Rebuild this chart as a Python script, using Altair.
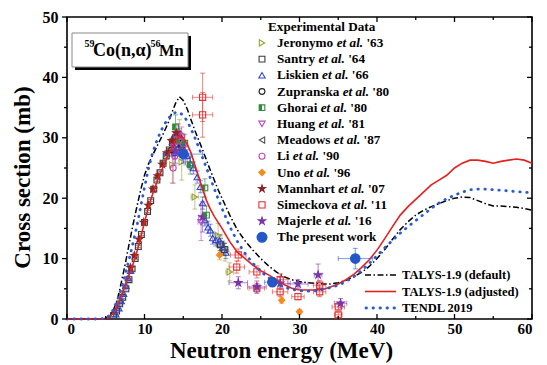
import altair as alt
import pandas as pd

# ---------------- model curves ----------------
energy_model = [0, 4, 5, 5.5, 6, 6.5, 7, 7.5, 8, 8.5, 9, 9.5, 10, 10.5, 11, 11.5, 12, 12.5,
                13, 13.5, 14, 14.5, 15, 15.5, 16, 16.5, 17, 17.5, 18, 18.5, 19, 19.5, 20,
                21, 22, 23, 24, 25, 26, 27, 28, 29, 30, 31, 32, 33, 34, 35, 36, 37, 38, 39, 40,
                41, 42, 43, 44, 45, 46, 47, 48, 49, 50, 51, 52, 53, 54, 55, 56, 57, 58, 59, 60]
talys_default = [0, 0, 0.1, 0.5, 1.5, 3.2, 6, 9, 12.3, 15.5, 18.5, 21.3, 23.8, 25.6, 27, 28.3, 29.6, 30.9,
                 32.3, 34, 35.7, 36.8, 36.2, 34.8, 33, 31.2, 29.6, 28, 26.3, 24.6, 23, 21.4, 20,
                 17.2, 14.7, 12.9, 11.4, 10, 8.8, 7.8, 7, 6.5, 6.2, 6, 5.9, 5.8, 5.8, 6, 6.4, 7, 7.7, 8.7, 10,
                 11.5, 13.2, 14.8, 16.1, 17.2, 18, 18.6, 19.1, 19.6, 20, 20.2, 20.1, 19.6, 19.1, 18.7, 18.7, 18.6, 18.5, 18.3, 18]
talys_adjusted = [0, 0, 0.05, 0.3, 1, 2.2, 3.8, 5.5, 7.3, 9, 11, 13.5, 16, 18.5, 20.5, 22.3, 24, 25.5,
                  27, 28.3, 29.5, 30.3, 30, 29, 27.5, 25.5, 23.5, 21.5, 19.6, 18.2, 17, 16, 15,
                  12.8, 11, 10, 8.9, 8, 7.3, 6.5, 5.7, 5.1, 4.8, 4.8, 4.8, 4.9, 5.3, 5.8, 6.5, 7.4, 8.5, 9.8, 11.4,
                  13.3, 15.3, 17.2, 18.6, 19.8, 21, 22.2, 23, 23.8, 25, 25.8, 26.3, 26.3, 26.1, 25.8, 26.1, 26.3, 26.5, 26.3, 25.8]
tendl_2019 = [0, 0, 0.1, 0.6, 1.6, 3.1, 5, 7.3, 9.8, 12.5, 15.3, 18.5, 21.8, 24.8, 27.3, 29.2, 30.8, 32.1,
              33.1, 33.8, 34.2, 34.2, 33.7, 32.8, 31.5, 30, 28.4, 26.7, 25, 23.3, 21.6, 19.9, 18.3,
              15.3, 12.8, 10.8, 9.2, 7.9, 6.8, 5.9, 5.3, 4.9, 4.7, 4.6, 4.7, 4.9, 5.2, 5.6, 6.2, 7, 8, 9.2, 10.5,
              11.8, 13, 14.2, 15.3, 16.3, 17.3, 18.3, 19.2, 19.9, 20.5, 21, 21.4, 21.5, 21.5, 21.4, 21.3, 21.2, 21.1, 21, 20.9]

# ---------------- experimental data ----------------
jeronymo_x = [13.6, 14.5, 14.8, 16.5, 19.5, 20.4, 21.0]
jeronymo_y = [25.5, 30.0, 26.0, 20.2, 13.8, 11.1, 7.8]
jeronymo_dy = [3.0, 3.0, 3.0, 2.0, 2.0, 1.5, 1.5]
jeronymo_dx = [0.0, 0.0, 0.0, 0.5, 0.5, 0.5, 0.5]

santry_x = [6.0, 6.4, 6.8, 7.2, 7.6, 8.0, 8.4, 8.8, 9.2, 9.6, 10.0, 10.4, 10.8, 11.2, 11.6, 12.0, 12.4,
            12.8, 13.2, 13.6, 14.0, 14.4, 14.8, 19.8, 20.3]
santry_y = [0.6, 1.3, 2.5, 3.6, 5.0, 6.5, 8.3, 10.0, 12.0, 14.0, 16.0, 17.8, 19.6, 21.5, 23.0, 24.2, 25.8,
            27.0, 28.0, 29.2, 30.0, 30.5, 29.0, 12.3, 11.5]
santry_dy = [0.2] * 23 + [1.0, 1.0]
santry_dx = [0.0] * 23 + [0.5, 0.5]

liskien_x = [6.3, 6.7, 7.0, 7.3, 7.6, 7.9, 8.2, 13.9, 14.3, 14.7, 15.1, 15.5, 15.9, 16.3, 16.8, 17.2,
             17.5, 17.8, 18.2, 18.5, 18.8, 19.2, 19.7, 20.1, 20.5]
liskien_y = [0.8, 1.8, 3.0, 4.2, 5.5, 6.8, 8.0, 27.5, 28.3, 28.8, 28.0, 27.0, 25.8, 25.0, 23.5, 21.9,
             19.2, 16.4, 15.2, 14.7, 13.4, 13.1, 13.0, 11.9, 11.0]
liskien_dy = [0.3] * 7 + [1.0] * 18
liskien_dx = [0.0] * 25

zupranska_x = [13.5, 14.0, 14.5, 14.8]
zupranska_y = [28.0, 29.5, 30.0, 28.5]
zupranska_dy = [1.0, 1.0, 1.0, 1.0]
zupranska_dx = [0.0, 0.0, 0.0, 0.0]

ghorai_x = [14.0, 14.5, 15.2, 15.9, 17.8, 18.0]
ghorai_y = [31.8, 29.5, 29.1, 25.5, 21.7, 17.2]
ghorai_dy = [2.0, 2.0, 1.5, 1.5, 1.5, 1.5]
ghorai_dx = [0.0, 0.0, 0.0, 0.0, 0.0, 0.0]

huang_x = [13.7, 14.1, 14.6, 14.9, 15.3, 17.3]
huang_y = [28.5, 30.5, 29.3, 27.8, 27.0, 16.0]
huang_dy = [1.5, 1.5, 1.5, 1.5, 1.5, 3.0]
huang_dx = [0.0, 0.0, 0.0, 0.0, 0.0, 0.4]

meadows_x = [14.7]
meadows_y = [28.0]
meadows_dy = [1.0]
meadows_dx = [0.0]

li_x = [13.7, 13.9, 14.1, 14.4, 14.8, 15.0]
li_y = [25.0, 27.0, 29.5, 30.8, 30.3, 29.0]
li_dy = [2.5, 1.5, 1.5, 1.5, 1.5, 1.5]
li_dx = [0.0, 0.0, 0.0, 0.0, 0.0, 0.0]

uno_x = [19.7, 27.7, 30.0]
uno_y = [10.6, 3.1, 1.2]
uno_dy = [0.8, 0.5, 0.4]
uno_dx = [0.0, 0.0, 0.0]

mannhart_x = [8.2, 8.7, 9.3, 9.9, 10.5, 11.1, 11.7, 12.3, 12.9, 13.5, 14.1]
mannhart_y = [8.5, 10.5, 13.2, 16.0, 18.8, 21.5, 23.7, 25.6, 27.5, 29.5, 30.8]
mannhart_dy = [0.4] * 11
mannhart_dx = [0.0] * 11

simeckova_x = [17.5, 17.5, 22.1, 21.9, 24.5, 24.5, 27.5, 27.5, 29.8, 32.6, 32.6, 35.0, 35.0]
simeckova_y = [36.7, 33.8, 10.6, 8.6, 7.8, 5.1, 6.5, 4.5, 3.7, 5.6, 4.5, 2.0, 0.7]
simeckova_dy = [4.0, 3.7, 1.0, 1.0, 1.0, 0.8, 1.0, 0.8, 0.5, 0.8, 0.8, 0.5, 0.4]
simeckova_dx = [1.3, 1.3, 1.0, 1.0, 1.0, 1.0, 1.0, 1.0, 0.8, 0.8, 0.8, 0.8, 0.5]

majerle_x = [14.0, 17.5, 22.1, 24.5, 27.5, 29.8, 32.4, 35.3]
majerle_y = [27.8, 16.9, 6.0, 5.3, 5.9, 5.8, 7.3, 2.6]
majerle_dy = [2.0, 2.5, 1.0, 1.0, 1.0, 0.7, 1.8, 0.8]
majerle_dx = [0.0, 0.5, 1.2, 1.2, 1.3, 1.3, 0.5, 0.8]

present_x = [15.0, 26.5, 37.2]
present_y = [27.3, 6.1, 10.0]
present_dy = [1.5, 0.7, 1.7]
present_dx = [2.5, 1.0, 2.2]

series_names = ["Jeronymo", "Santry", "Liskien", "Zupranska", "Ghorai", "Huang", "Meadows",
                "Li", "Uno", "Mannhart", "Simeckova", "Majerle", "The present work"]
series_years = ["'63", "'64", "'66", "'80", "'80", "'81", "'87", "'90", "'96", "'07", "'11", "'16", ""]
model_names = ["TALYS-1.9 (default)", "TALYS-1.9 (adjusted)", "TENDL 2019"]

# ---------------- styles ----------------
STAR = ("M0,-1L0.2245,-0.309L0.9511,-0.309L0.3633,0.118L0.5878,0.809L0,0.382"
        "L-0.5878,0.809L-0.3633,0.118L-0.9511,-0.309L-0.2245,-0.309Z")
HALF = "M-1,-1L0,-1L0,1L-1,1Z"
style = {
    "Jeronymo": ("triangle-right", "#9aa33a", "transparent", 38),
    "Santry": ("square", "#3a3a3a", "transparent", 34),
    "Liskien": ("triangle-up", "#3446c4", "transparent", 40),
    "Zupranska": ("circle", "#222222", "transparent", 34),
    "Ghorai": ("square", "#2e8b3a", "transparent", 32),
    "Huang": ("triangle-down", "#b648c8", "transparent", 40),
    "Meadows": ("triangle-left", "#555555", "transparent", 38),
    "Li": ("circle", "#cc44aa", "transparent", 36),
    "Uno": ("diamond", "#f28a1e", "#f28a1e", 40),
    "Mannhart": (STAR, "#8b2525", "#8b2525", 55),
    "Simeckova": ("square", "#e03030", "transparent", 38),
    "Majerle": (STAR, "#7a35a8", "#7a35a8", 60),
    "The present work": ("circle", "#2456c8", "#2456c8", 90),
}
raw = {
    "Jeronymo": (jeronymo_x, jeronymo_y, jeronymo_dy, jeronymo_dx),
    "Santry": (santry_x, santry_y, santry_dy, santry_dx),
    "Liskien": (liskien_x, liskien_y, liskien_dy, liskien_dx),
    "Zupranska": (zupranska_x, zupranska_y, zupranska_dy, zupranska_dx),
    "Ghorai": (ghorai_x, ghorai_y, ghorai_dy, ghorai_dx),
    "Huang": (huang_x, huang_y, huang_dy, huang_dx),
    "Meadows": (meadows_x, meadows_y, meadows_dy, meadows_dx),
    "Li": (li_x, li_y, li_dy, li_dx),
    "Uno": (uno_x, uno_y, uno_dy, uno_dx),
    "Mannhart": (mannhart_x, mannhart_y, mannhart_dy, mannhart_dx),
    "Simeckova": (simeckova_x, simeckova_y, simeckova_dy, simeckova_dx),
    "Majerle": (majerle_x, majerle_y, majerle_dy, majerle_dx),
    "The present work": (present_x, present_y, present_dy, present_dx),
}

rows = []
for name in series_names:
    xs_, ys_, dys, dxs = raw[name]
    shp, st, fl, sz = style[name]
    for x, y, dy, dx in zip(xs_, ys_, dys, dxs):
        rows.append(dict(series=name, x=x, y=y, ylo=max(y - dy, 0), yhi=y + dy,
                         xlo=x - dx, xhi=x + dx, dy=dy, dx=dx,
                         shape=shp, stroke=st, fill=fl, size=sz))
pts = pd.DataFrame(rows)
others = pts[pts.series != "The present work"]
present = pts[pts.series == "The present work"]
ghorai = pts[pts.series == "Ghorai"].assign(shape=HALF, fill="#2e8b3a")

model_df = pd.DataFrame({"x": energy_model, "d": talys_default, "a": talys_adjusted, "t": tendl_2019})

x_major = [0, 10, 20, 30, 40, 50, 60]
x_minor = [5, 15, 25, 35, 45, 55]
y_major = [0, 10, 20, 30, 40, 50]
y_minor = [5, 15, 25, 35, 45]

# ---------------- chart ----------------
W, H = 465, 302
FONT = "Liberation Serif"
xs = alt.Scale(domain=[0, 60], nice=False, zero=False)
ys = alt.Scale(domain=[0, 50], nice=False, zero=False)


def X(f, **kw):
    return alt.X(f, type="quantitative", scale=xs, **kw)


def Y(f, **kw):
    return alt.Y(f, type="quantitative", scale=ys, **kw)


xaxis = alt.Axis(values=x_major, ticks=False, tickSize=0, domain=False, grid=False, format="d",
                 labelFont=FONT, labelFontWeight="bold", labelFontSize=15, labelColor="black",
                 labelPadding=2, title="Neutron energy (MeV)", titleFont=FONT, titleFontSize=23,
                 titleFontWeight="bold", titleColor="black", titlePadding=3, titleX=214)
yaxis = alt.Axis(values=y_major, ticks=False, tickSize=0, domain=False, grid=False, format="d",
                 labelFont=FONT, labelFontWeight="bold", labelFontSize=16, labelColor="black",
                 labelPadding=9, title="Cross section (mb)", titleFont=FONT, titleFontSize=23,
                 titleFontWeight="bold", titleColor="black", titlePadding=8, titleY=160)

base_model = alt.Chart(model_df)
line_def = base_model.mark_line(color="black", strokeWidth=1.5, strokeDash=[6, 2.5, 1.5, 2.5]).encode(
    x=X("x", axis=xaxis), y=Y("d", axis=yaxis))
line_adj = base_model.mark_line(color="#e32020", strokeWidth=1.6).encode(x=X("x"), y=Y("a"))
line_tendl = base_model.mark_line(color="#2a5bd7", strokeWidth=2.8, strokeDash=[0.5, 6.5],
                                  strokeCap="round").encode(x=X("x"), y=Y("t"))


def err_layers(df):
    col = alt.Color("stroke:N", scale=None)
    dfy = df[df.dy > 0]
    dfx = df[df.dx > 0]
    out = [
        alt.Chart(dfy).mark_rule(strokeWidth=1, opacity=0.6).encode(x=X("x"), y=Y("ylo"), y2="yhi", color=col),
        alt.Chart(dfy).mark_tick(orient="horizontal", size=5, thickness=1, opacity=0.6).encode(x=X("x"), y=Y("yhi"), color=col),
        alt.Chart(dfy).mark_tick(orient="horizontal", size=5, thickness=1, opacity=0.6).encode(x=X("x"), y=Y("ylo"), color=col),
    ]
    if len(dfx):
        out += [
            alt.Chart(dfx).mark_rule(strokeWidth=1, opacity=0.6).encode(x=X("xlo"), x2="xhi", y=Y("y"), color=col),
            alt.Chart(dfx).mark_tick(orient="vertical", size=5, thickness=1, opacity=0.6).encode(x=X("xlo"), y=Y("y"), color=col),
            alt.Chart(dfx).mark_tick(orient="vertical", size=5, thickness=1, opacity=0.6).encode(x=X("xhi"), y=Y("y"), color=col),
        ]
    return out


def sym_layer(df, sw=1.1):
    return alt.Chart(df).mark_point(filled=False, strokeWidth=sw, opacity=1).encode(
        x=X("x"), y=Y("y"),
        shape=alt.Shape("shape:N", scale=None),
        stroke=alt.Stroke("stroke:N", scale=None),
        fill=alt.Fill("fill:N", scale=None),
        size=alt.Size("size:Q", scale=None))


def half_layer(df):
    return alt.Chart(df).mark_point(filled=True, opacity=1, strokeWidth=0).encode(
        x=X("x"), y=Y("y"),
        shape=alt.Shape("shape:N", scale=None),
        fill=alt.Fill("fill:N", scale=None),
        size=alt.Size("size:Q", scale=None))


# ticks drawn as rules
tk = lambda vals: pd.DataFrame({"v": vals})
ticks = [
    alt.Chart(tk(x_major)).mark_rule(color="black", strokeWidth=1.3).encode(x=X("v"), y=alt.value(H), y2=alt.value(H - 5)),
    alt.Chart(tk(x_minor)).mark_rule(color="black", strokeWidth=1.3).encode(x=X("v"), y=alt.value(H), y2=alt.value(H - 3)),
    alt.Chart(tk(x_major)).mark_rule(color="black", strokeWidth=1.3).encode(x=X("v"), y=alt.value(0), y2=alt.value(5)),
    alt.Chart(tk(x_minor)).mark_rule(color="black", strokeWidth=1.3).encode(x=X("v"), y=alt.value(0), y2=alt.value(3)),
    alt.Chart(tk(y_major)).mark_rule(color="black", strokeWidth=1.3).encode(y=Y("v"), x=alt.value(-5), x2=alt.value(0)),
    alt.Chart(tk(y_minor)).mark_rule(color="black", strokeWidth=1.3).encode(y=Y("v"), x=alt.value(-3), x2=alt.value(0)),
    alt.Chart(tk(y_major)).mark_rule(color="black", strokeWidth=1.3).encode(y=Y("v"), x=alt.value(W), x2=alt.value(W - 5)),
    alt.Chart(tk(y_minor)).mark_rule(color="black", strokeWidth=1.3).encode(y=Y("v"), x=alt.value(W), x2=alt.value(W - 3)),
]

# ---------------- legend (experimental) ----------------
BW = {" ": 250, "'": 278, ".": 250, "-": 333, "(": 333, ")": 333}
for ch, w in zip("abcdefghijklmnopqrstuvwxyz",
                 [500, 556, 444, 556, 444, 333, 500, 556, 278, 333, 556, 278, 833, 556, 500, 556, 556,
                  444, 389, 333, 556, 500, 722, 500, 500, 444]):
    BW[ch] = w
for ch, w in zip("ABCDEFGHIJKLMNOPQRSTUVWXYZ",
                 [722, 667, 722, 722, 667, 611, 778, 778, 389, 500, 778, 667, 944, 722, 778, 611, 778,
                  722, 556, 667, 722, 722, 1000, 722, 722, 667]):
    BW[ch] = w
for d in "0123456789":
    BW[d] = 500


def tw(s, fs):
    return sum(BW.get(c, 500) for c in s) * fs / 1000.0


LFS = 13.2
px2x = lambda p: p * 60.0 / W
py2y = lambda p: 50.0 - p * 50.0 / H
sym_px, txt_px, row0, dyrow = 195, 210, 25.9, 16.2
leg_rows, name_rows, etal_rows, year_rows = [], [], [], []
for i, name in enumerate(series_names):
    py = row0 + dyrow * i
    shp, st, fl, sz = style[name]
    leg_rows.append(dict(x=px2x(sym_px), y=py2y(py), shape=shp, stroke=st, fill=fl,
                         size=sz if name != "The present work" else 100))
    name_rows.append(dict(x=px2x(txt_px), y=py2y(py), t=name))
    if series_years[i]:
        xe = txt_px + tw(name + " ", LFS)
        etal_rows.append(dict(x=px2x(xe), y=py2y(py), t="et al."))
        xy = xe + 2000 * LFS / 1000.0 + tw(" ", LFS)
        year_rows.append(dict(x=px2x(xy), y=py2y(py), t=series_years[i]))
leg_df = pd.DataFrame(leg_rows)
leg_g = leg_df[leg_df.stroke == "#2e8b3a"].assign(shape=HALF, fill="#2e8b3a")


def txt(df, italic=False, fs=LFS):
    kw = dict(align="left", baseline="middle", font=FONT, fontWeight="bold", fontSize=fs, color="black")
    if italic:
        kw["fontStyle"] = "italic"
    return alt.Chart(df).mark_text(**kw).encode(x=X("x"), y=Y("y"), text="t:N")


header = txt(pd.DataFrame([dict(x=px2x(201), y=py2y(9.6), t="Experimental Data")]))

# ---------------- legend (models) ----------------
one = pd.DataFrame({"a": [0]})
mrow = [258, 274.5, 291]
model_leg = [
    alt.Chart(one).mark_rule(color="black", strokeWidth=1.5, strokeDash=[6, 2.5, 1.5, 2.5]).encode(
        x=alt.value(298), x2=alt.value(329), y=alt.value(mrow[0])),
    alt.Chart(one).mark_rule(color="#e32020", strokeWidth=1.6).encode(
        x=alt.value(298), x2=alt.value(329), y=alt.value(mrow[1])),
    alt.Chart(one).mark_rule(color="#2a5bd7", strokeWidth=2.8, strokeDash=[0.5, 6.5], strokeCap="round").encode(
        x=alt.value(299), x2=alt.value(329), y=alt.value(mrow[2])),
]
model_txt = txt(pd.DataFrame([dict(x=px2x(335), y=py2y(p), t=t) for p, t in zip(mrow, model_names)]), fs=12.5)

# ---------------- reaction label box ----------------
box = [
    alt.Chart(one).mark_rect(color="black").encode(x=alt.value(8), x2=alt.value(124), y=alt.value(19), y2=alt.value(53)),
    alt.Chart(one).mark_rect(fill="white", stroke="#888888", strokeWidth=1).encode(
        x=alt.value(5), x2=alt.value(121), y=alt.value(16), y2=alt.value(50)),
]
parts = [("59", 10, 17.5, 30), ("Co(n,\u03b1)", 18, 26, 39), ("56", 10, 83.5, 30), ("Mn", 16.5, 92, 39)]
lab_layers = [
    alt.Chart(one).mark_text(text=t, align="left", baseline="alphabetic", font=FONT, fontWeight="bold",
                             fontSize=fs, color="black").encode(x=alt.value(px), y=alt.value(by))
    for t, fs, px, by in parts
]

chart = alt.layer(
    line_def,
    *err_layers(others),
    sym_layer(others),
    half_layer(ghorai),
    line_adj, line_tendl,
    *err_layers(present),
    sym_layer(present),
    *ticks,
    header,
    sym_layer(leg_df), half_layer(leg_g),
    txt(pd.DataFrame(name_rows)), txt(pd.DataFrame(etal_rows), italic=True), txt(pd.DataFrame(year_rows)),
    *model_leg, model_txt,
    *box, *lab_layers,
).properties(
    width=W, height=H,
    autosize=alt.AutoSizeParams(type="none"),
    padding={"left": 59, "top": 9, "right": 7, "bottom": 46},
).configure_view(stroke="black", strokeWidth=1.6)

chart.save("out.html", embed_options={"renderer": "svg", "actions": False})
